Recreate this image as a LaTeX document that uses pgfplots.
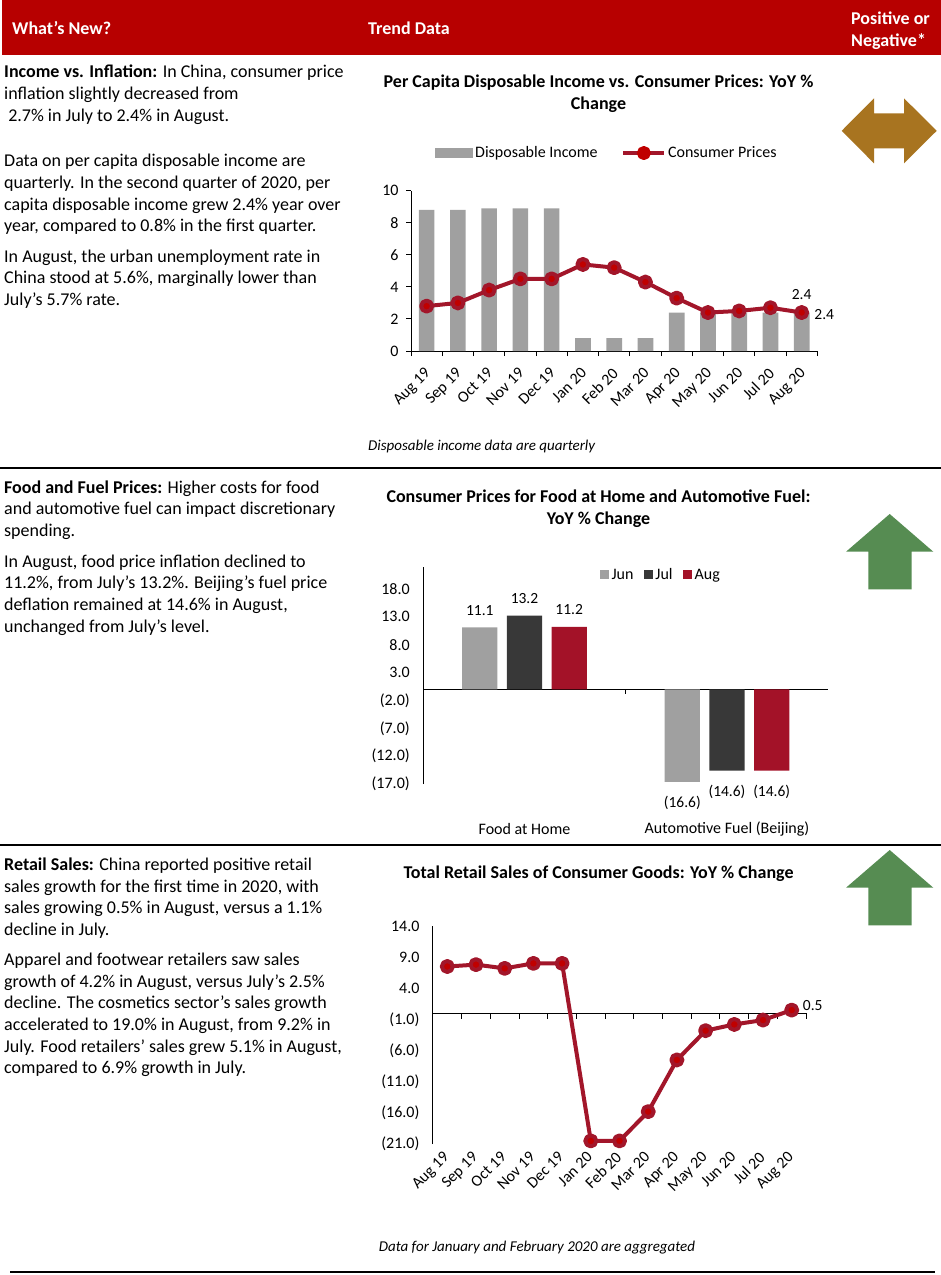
\documentclass[border=0pt]{standalone}
\usepackage{fontspec}
\setmainfont{Carlito}
\usepackage{pgfplots}
\pgfplotsset{compat=1.18}
\definecolor{hdrred}{RGB}{183,0,0}
\definecolor{bargray}{RGB}{160,160,160}
\definecolor{linered}{RGB}{162,22,42}
\definecolor{mkred}{RGB}{192,0,0}
\definecolor{juldark}{RGB}{56,56,56}
\definecolor{augred}{RGB}{163,18,40}
\definecolor{arrbrown}{RGB}{168,116,32}
\definecolor{arrgreen}{RGB}{86,140,82}
\newcommand\bodyfont{\fontsize{18}{21.6}\selectfont}
\newcommand\chartfont{\fontsize{16}{19}\selectfont}
\newcommand\labelfont{\fontsize{15.5}{18}\selectfont}
\newcommand\titlefont{\fontsize{18}{21.6}\selectfont\bfseries}
\pgfplotsset{
  myaxis/.style={
    scale only axis,
    anchor=south west,
    axis line style={black, line width=1pt},
    every tick/.style={black, line width=1pt},
    tick label style={font=\chartfont},
    /pgf/number format/assume math mode=true,
    clip=false,
  },
}
\begin{document}
\begin{tikzpicture}[x=1pt,y=1pt]
\useasboundingbox (0,0) rectangle (941,-1275);
\fill[white] (0,0) rectangle (941,-1275);
% header
\fill[hdrred] (2,0) rectangle (941,-55);
\tikzset{hdr/.style={anchor=base west, inner sep=0pt, text=white, font=\fontsize{18}{21}\selectfont\bfseries}}
\node[hdr] at (12,-34) {What’s New?};
\node[hdr] at (368,-34) {Trend Data};
\node[hdr] at (851,-24) {Positive or};
\node[hdr] at (851,-46) {Negative*};
% separators
\draw[black, line width=1.2pt] (0,-468) -- (941,-468);
\draw[black, line width=1.2pt] (0,-845) -- (941,-845);
\draw[black, line width=1.2pt] (10,-1272) -- (935,-1272);
% body text
\tikzset{body/.style={anchor=base west, inner sep=0pt, font=\bodyfont}}
\node[body] at (4,-77.7) {\textbf{Income vs. Inflation:} In China, consumer price};
\node[body] at (4,-99.3) {inflation slightly decreased from};
\node[body] at (4,-121) {\ 2.7\% in July to 2.4\% in August.};
\node[body] at (4,-166) {Data on per capita disposable income are};
\node[body] at (4,-188.7) {quarterly. In the second quarter of 2020, per};
\node[body] at (4,-210) {capita disposable income grew 2.4\% year over};
\node[body] at (4,-231.7) {year, compared to 0.8\% in the first quarter.};
\node[body] at (4,-262) {In August, the urban unemployment rate in};
\node[body] at (4,-283.3) {China stood at 5.6\%, marginally lower than};
\node[body] at (4,-305) {July’s 5.7\% rate.};
\node[body] at (4,-493) {\textbf{Food and Fuel Prices:} Higher costs for food};
\node[body] at (4,-514.6) {and automotive fuel can impact discretionary};
\node[body] at (4,-536.2) {spending.};
\node[body] at (4,-567.2) {In August, food price inflation declined to};
\node[body] at (4,-588.8) {11.2\%, from July’s 13.2\%. Beijing’s fuel price};
\node[body] at (4,-610.4) {deflation remained at 14.6\% in August,};
\node[body] at (4,-632) {unchanged from July’s level.};
\node[body] at (4,-870.4) {\textbf{Retail Sales:} China reported positive retail};
\node[body] at (4,-892) {sales growth for the first time in 2020, with};
\node[body] at (4,-913.7) {sales growing 0.5\% in August, versus a 1.1\%};
\node[body] at (4,-935.3) {decline in July.};
\node[body] at (4,-965.3) {Apparel and footwear retailers saw sales};
\node[body] at (4,-987) {growth of 4.2\% in August, versus July’s 2.5\%};
\node[body] at (4,-1008.7) {decline. The cosmetics sector’s sales growth};
\node[body] at (4,-1030.3) {accelerated to 19.0\% in August, from 9.2\% in};
\node[body] at (4,-1052) {July. Food retailers’ sales grew 5.1\% in August,};
\node[body] at (4,-1073.6) {compared to 6.9\% growth in July.};
% chart titles
\tikzset{ctitle/.style={anchor=base, inner sep=0pt, font=\titlefont}}
\node[ctitle] at (598.5,-87.7) {Per Capita Disposable Income vs. Consumer Prices: YoY \%};
\node[ctitle] at (598.5,-109.3) {Change};
\node[ctitle] at (598.5,-502) {Consumer Prices for Food at Home and Automotive Fuel:};
\node[ctitle] at (598.5,-524) {YoY \% Change};
\node[ctitle] at (598.5,-878) {Total Retail Sales of Consumer Goods: YoY \% Change};
% captions
\node[anchor=base west, inner sep=0pt, font=\fontsize{15}{18}\selectfont\itshape] at (368,-450) {Disposable income data are quarterly};
\node[anchor=base, inner sep=0pt, font=\fontsize{15}{18}\selectfont\itshape] at (537,-1251) {Data for January and February 2020 are aggregated};
% arrows
\fill[arrbrown] (841.7,-130.8) -- (874,-98.3) -- (874,-113.3) -- (904,-113.3) -- (904,-98.3) -- (936.7,-130.8) -- (904,-163.3) -- (904,-148.3) -- (874,-148.3) -- (874,-163.3) -- cycle;
\fill[arrgreen] (889.7,-514) -- (933.3,-551.7) -- (911.7,-551.7) -- (911.7,-589.3) -- (868.3,-589.3) -- (868.3,-551.7) -- (846,-551.7) -- cycle;
\fill[arrgreen] (889.7,-850) -- (933.3,-887.7) -- (911.7,-887.7) -- (911.7,-925.3) -- (868.3,-925.3) -- (868.3,-887.7) -- (846,-887.7) -- cycle;

% ---------- chart 1
\begin{axis}[myaxis,
  at={(411pt,-351pt)}, width=406.3pt, height=160.3pt,
  xmin=-0.5, xmax=12.5, ymin=0, ymax=10,
  axis x line*=bottom, axis y line*=left,
  tick align=outside, major tick length=5pt,
  ytick={0,2,...,10},
  yticklabel style={xshift=-4pt},
  xtick={-0.5,0.5,...,12.5}, xticklabels={},
  extra x ticks={0,1,...,12},
  extra x tick labels={Aug 19,Sep 19,Oct 19,Nov 19,Dec 19,Jan 20,Feb 20,Mar 20,Apr 20,May 20,Jun 20,Jul 20,Aug 20},
  extra x tick style={major tick length=0pt},
  xticklabel style={xshift=-3pt, yshift=-14pt, rotate=45, anchor=north east, inner sep=1pt},
  legend columns=2,
  legend style={at={(0.059,1.235)}, anchor=west, draw=none, fill=none, inner sep=0pt,
    font=\chartfont, nodes={inner sep=2pt},
    /tikz/every even column/.append style={column sep=22pt}},
]
\addplot[ybar, bar width=15.7pt, fill=bargray, draw=none,
  legend image code/.code={\fill[bargray] (0pt,-4.7pt) rectangle (38pt,4.7pt);}]
  coordinates {(0,8.8) (1,8.8) (2,8.9) (3,8.9) (4,8.9) (5,0.8) (6,0.8) (7,0.8) (8,2.4) (9,2.4) (10,2.4) (11,2.4) (12,2.4)};
\addlegendentry{Disposable Income}
\addplot[linered, line width=4pt, line join=round, mark=*, mark size=5.5pt, mark options={fill=mkred, draw=none},
  legend image code/.code={\draw[linered,line width=3.5pt] (0pt,0pt) -- (41pt,0pt); \fill[mkred] (20.5pt,0pt) circle (5pt);}]
  coordinates {(0,2.8) (1,3.0) (2,3.8) (3,4.5) (4,4.5) (5,5.4) (6,5.2) (7,4.3) (8,3.3) (9,2.4) (10,2.5) (11,2.7) (12,2.4)};
\addlegendentry{Consumer Prices}
\node[anchor=south, inner sep=0pt, font=\labelfont, yshift=12.3pt] at (axis cs:12,2.4) {2.4};
\node[anchor=west, inner sep=0pt, font=\labelfont, xshift=12.6pt, yshift=-2.2pt] at (axis cs:12,2.4) {2.4};
\end{axis}

% ---------- chart 2
\begin{axis}[myaxis,
  at={(423.25pt,-784pt)}, width=405pt, height=217.3pt,
  xmin=-0.5, xmax=1.5, ymin=-17, ymax=22,
  ybar=9.4pt, bar width=35.3pt,
  axis x line*=bottom, axis y line*=left, x axis line style={draw=none},
  major tick length=0pt,
  xtick={0,1}, xticklabels={Food at Home,Automotive Fuel (Beijing)},
  xticklabel style={anchor=center, yshift=-45pt},
  ytick={-17,-12,-7,-2,3,8,13,18},
  yticklabels={(17.0),(12.0),(7.0),(2.0),3.0,8.0,13.0,18.0},
  yticklabel style={xshift=-10pt},
  point meta=explicit symbolic,
  nodes near coords,
  every node near coord/.append style={font=\labelfont, text=black, inner sep=12pt},
  legend columns=3,
  legend style={at={(0.436,0.962)}, anchor=west, draw=none, fill=none, inner sep=0pt,
    font=\chartfont, nodes={inner sep=2.5pt},
    /tikz/every even column/.append style={column sep=8pt}},
]
\draw[black, line width=1pt] (axis cs:-0.5,0) -- (axis cs:1.5,0);
\draw[black, line width=1pt] (axis cs:0.5,0) -- ++(0pt,-5pt);
\addplot[fill=bargray, draw=none, legend image code/.code={\fill[bargray] (0pt,-4pt) rectangle (9pt,5pt);}]
  coordinates {(0,11.1) [11.1] (1,-16.6) []};
\addlegendentry{Jun}
\addplot[fill=juldark, draw=none, legend image code/.code={\fill[juldark] (0pt,-4pt) rectangle (9pt,5pt);}]
  coordinates {(0,13.2) [13.2] (1,-14.6) []};
\addlegendentry{Jul}
\addplot[fill=augred, draw=none, legend image code/.code={\fill[augred] (0pt,-4pt) rectangle (9pt,5pt);}]
  coordinates {(0,11.2) [11.2] (1,-14.6) []};
\addlegendentry{Aug}
\node[font=\labelfont, inner sep=0pt, xshift=-44.7pt, yshift=-21pt] at (axis cs:1,-16.6) {(16.6)};
\node[font=\labelfont, inner sep=0pt, yshift=-21pt] at (axis cs:1,-14.6) {(14.6)};
\node[font=\labelfont, inner sep=0pt, xshift=44.7pt, yshift=-21pt] at (axis cs:1,-14.6) {(14.6)};
\end{axis}

% ---------- chart 3
\begin{axis}[myaxis,
  at={(432.95pt,-1144pt)}, width=373.1pt, height=218pt,
  xmin=-0.5, xmax=12.5, ymin=-21, ymax=14,
  axis x line*=bottom, axis y line*=left, x axis line style={draw=none},
  major tick length=0pt,
  xtick={0,1,...,12},
  xticklabels={Aug 19,Sep 19,Oct 19,Nov 19,Dec 19,Jan 20,Feb 20,Mar 20,Apr 20,May 20,Jun 20,Jul 20,Aug 20},
  xticklabel style={xshift=-5pt, yshift=-5pt, rotate=45, anchor=north east, inner sep=1pt},
  ytick={-21,-16,-11,-6,-1,4,9,14},
  yticklabels={(21.0),(16.0),(11.0),(6.0),(1.0),4.0,9.0,14.0},
  yticklabel style={xshift=-10pt},
]
\draw[black, line width=1pt] (axis cs:-0.5,0) -- (axis cs:12.5,0);
\pgfplotsinvokeforeach{-0.5,0.5,...,12.5}{\draw[black, line width=1pt] (axis cs:#1,0) -- ++(0pt,-6pt);}
\addplot[linered, line width=4pt, line join=round, mark=*, mark size=5.5pt, mark options={fill=mkred, draw=none}]
  coordinates {(0,7.5) (1,7.8) (2,7.2) (3,8.0) (4,8.0) (5,-20.5) (6,-20.5) (7,-15.8) (8,-7.5) (9,-2.8) (10,-1.8) (11,-1.1) (12,0.5)};
\node[anchor=west, inner sep=0pt, font=\labelfont, xshift=11pt, yshift=5pt] at (axis cs:12,0.5) {0.5};
\end{axis}
\end{tikzpicture}
\end{document}
